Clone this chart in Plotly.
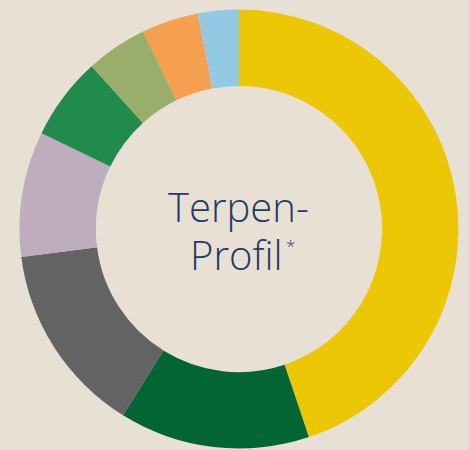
import plotly.graph_objects as go

labels = ["Gelb", "Dunkelgrün", "Grau", "Mauve", "Grün", "Oliv", "Orange", "Hellblau"]
values = [44.8, 14.0, 14.1, 9.2, 6.1, 4.5, 4.2, 3.0]
colors = ["#EBC705", "#036535", "#636363", "#BEADBD", "#218A4D", "#98AE6A", "#F5A050", "#93C9E3"]

W, H = 469, 450
cx, cy, r = 239, 229, 219.5

fig = go.Figure(go.Pie(
    labels=labels,
    values=values,
    hole=0.652,
    sort=False,
    direction="clockwise",
    rotation=0,
    textinfo="none",
    hoverinfo="label+percent",
    marker=dict(colors=colors, line=dict(width=0)),
    domain=dict(x=[(cx - r) / W, (cx + r) / W],
                y=[(H - cy - r) / H, (H - cy + r) / H]),
    showlegend=False,
))

txt_color = "#233C66"
txt_font = dict(family="Open Sans", size=40, color=txt_color, weight=300)
fig.add_annotation(text="Terpen-", x=cx / W, y=(H - 207) / H, xref="paper", yref="paper",
                   showarrow=False, font=txt_font, xanchor="center", yanchor="middle")
fig.add_annotation(text="Profil", x=236 / W, y=(H - 254) / H, xref="paper", yref="paper",
                   showarrow=False, font=txt_font, xanchor="center", yanchor="middle")
fig.add_annotation(text="*", x=290.5 / W, y=(H - 245) / H, xref="paper", yref="paper",
                   showarrow=False, font=dict(family="Open Sans", size=17, color=txt_color, weight=300),
                   xanchor="center", yanchor="middle")

fig.update_layout(
    width=W, height=H,
    margin=dict(l=0, r=0, t=0, b=0),
    paper_bgcolor="#E8E0D5",
    plot_bgcolor="#E8E0D5",
)
fig.write_html("out.html")
